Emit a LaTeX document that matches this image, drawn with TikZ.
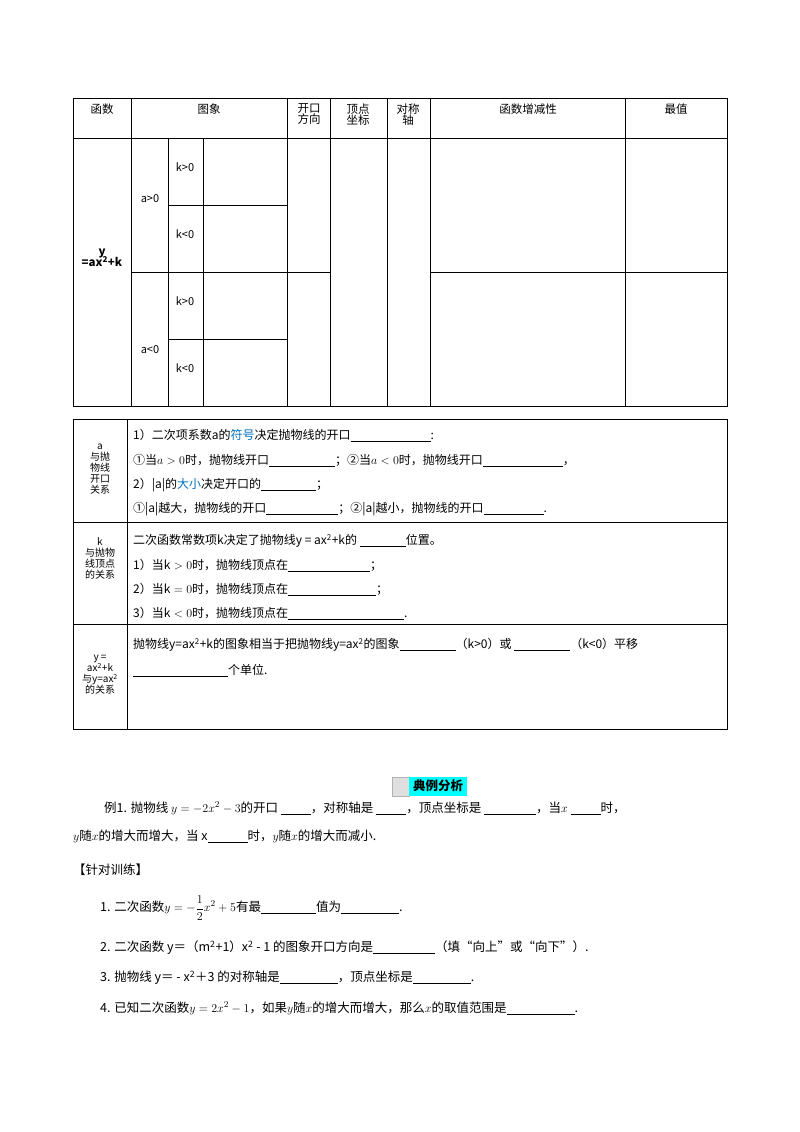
\documentclass[tikz,border=0pt]{standalone}
\usepackage{fontspec}
\setmainfont{Noto Sans CJK SC}
\definecolor{blu}{RGB}{0,112,192}
\definecolor{cy}{RGB}{0,255,255}
\newcommand{\bl}[1]{\rule[-2pt]{#1pt}{0.5pt}}
\begin{document}
\begin{tikzpicture}[x=1pt,y=-1pt,
  tl/.style={line width=0.7pt},
  hd/.style={font=\fontsize{11.5}{14}\selectfont,align=center,anchor=north},
  cel/.style={font=\fontsize{11}{13}\selectfont},
  side/.style={font=\fontsize{10}{14}\selectfont,align=center},
  txt/.style={anchor=west,font=\fontsize{12}{14}\selectfont,inner sep=0pt},
  body/.style={anchor=west,font=\fontsize{12.5}{15}\selectfont,inner sep=0pt}]
\useasboundingbox (0,0) rectangle (800,1132);
% top table
\draw[tl] (73,98) rectangle (727,406);
\draw[tl] (73,138) -- (727,138);
\foreach \x in {131,287,330,387,430,625} \draw[tl] (\x,98) -- (\x,406);
\foreach \x in {168,203} \draw[tl] (\x,138) -- (\x,406);
\draw[tl] (131,272) -- (330,272);
\draw[tl] (430,272) -- (727,272);
\draw[tl] (168,205) -- (287,205);
\draw[tl] (168,339) -- (287,339);
\node[hd] (h1) at (102,100) {函数};
\node[hd] (h2) at (209,100) {图象};
\node[hd] (h3) at (309,100) {开口\\[-3pt]方向};
\node[hd] (h4) at (358,100) {顶点\\[-3pt]坐标};
\node[hd] (h5) at (408,100) {对称\\[-3pt]轴};
\node[hd] (h6) at (528,100) {函数增减性};
\node[hd] (h7) at (676,100) {最值};
\node[font=\fontsize{11.5}{14}\selectfont\bfseries,align=center] (fn) at (102,258) {y\\[-3pt]=ax\textsuperscript{2}+k};
\node[cel] (a1) at (150,199) {a>0};
\node[cel] (a2) at (150,350) {a<0};
\node[cel] (k1) at (185,167) {k>0};
\node[cel] (k2) at (185,234) {k<0};
\node[cel] (k3) at (185,301) {k>0};
\node[cel] (k4) at (185,368) {k<0};
% middle table
\draw[tl] (73,419) rectangle (727,729);
\draw[tl] (127,419) -- (127,729);
\draw[line width=1pt] (73,522) -- (727,522);
\draw[tl] (73,624) -- (727,624);
\node[side] (s1) at (100,469) {a\\[-3pt]与抛\\[-3pt]物线\\[-3pt]开口\\[-3pt]关系};
\node[side] (s2) at (100,558) {k\\[-3pt]与抛物\\[-3pt]线顶点\\[-3pt]的关系};
\node[side] (s3) at (100,675) {y =\\[-3pt]ax\textsuperscript{2}+k\\[-3pt]与y=ax\textsuperscript{2}\\[-3pt]的关系};
\node[txt] (t1) at (133,435) {1）二次项系数a的\textcolor{blu}{符号}决定抛物线的开口\bl{80}:};
\node[txt] (t2) at (133,460) {①当$a>0$时，抛物线开口\bl{66}；②当$a<0$时，抛物线开口\bl{80}，};
\node[txt] (t3) at (133,485) {2）|a|的\textcolor{blu}{大小}决定开口的\bl{55}；};
\node[txt] (t4) at (133,509) {①|a|越大，抛物线的开口\bl{72}；②|a|越小，抛物线的开口\bl{60}.};
\node[txt] (t5) at (133,541) {二次函数常数项k决定了抛物线y = ax\textsuperscript{2}+k的 \bl{46}位置。};
\node[txt] (t6) at (133,565) {1）当$\mathrm{k}>0$时，抛物线顶点在\bl{82}；};
\node[txt] (t7) at (133,589) {2）当$\mathrm{k}=0$时，抛物线顶点在\bl{88}；};
\node[txt] (t8) at (133,613) {3）当$\mathrm{k}<0$时，抛物线顶点在\bl{116}.};
\node[txt] (t9) at (133,645) {抛物线y=ax\textsuperscript{2}+k的图象相当于把抛物线y=ax\textsuperscript{2}的图象\bl{56}（k>0）或 \bl{56}（k<0）平移};
\node[txt] (t10) at (133,670) {\bl{95}个单位.};
% heading
\fill[gray!25] (392,777) rectangle (409,796);
\draw[gray!60] (392,777) rectangle (409,796);
\fill[cy] (409,777) rectangle (467,796);
\node[font=\fontsize{12.5}{14}\selectfont\bfseries] (hd) at (438,786) {典例分析};
\node[body] (e1) at (104,808) {例1. 抛物线 $y=-2x^2-3$的开口 \bl{30}，对称轴是 \bl{30}，顶点坐标是 \bl{52}，当$x$ \bl{30}时，};
\node[body] (e2) at (73,836) {$y$随$x$的增大而增大，当 x\bl{40}时，$y$随$x$的增大而减小.};
\node[body] (e3) at (73,870) {【针对训练】};
\node[body] (p1) at (100,908) {1. 二次函数$y=-\displaystyle\frac{1}{2}x^2+5$有最\bl{55}值为\bl{58}.};
\node[body] (p2) at (100,948) {2. 二次函数 y＝（m\textsuperscript{2}+1）x\textsuperscript{2} - 1 的图象开口方向是\bl{62}（填“向上”或“向下”）.};
\node[body] (p3) at (100,978) {3. 抛物线 y＝ - x\textsuperscript{2}＋3 的对称轴是\bl{58}，顶点坐标是\bl{58}.};
\node[body] (p4) at (100,1008) {4. 已知二次函数$y=2x^2-1$，如果$y$随$x$的增大而增大，那么$x$的取值范围是\bl{68}.};
\end{tikzpicture}
\end{document}
